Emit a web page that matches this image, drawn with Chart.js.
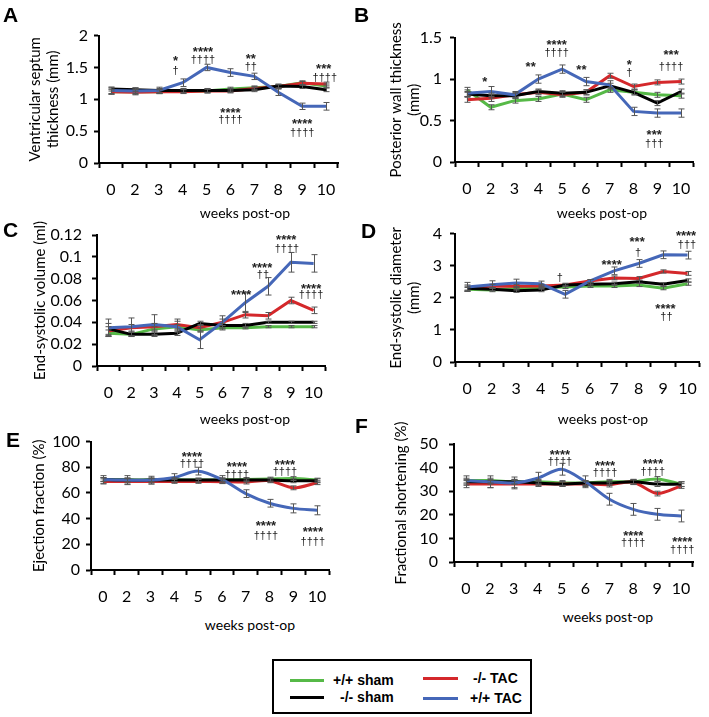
<!DOCTYPE html>
<html>
<head>
<meta charset="utf-8">
<script src="https://cdn.jsdelivr.net/npm/chart.js@4.4.0/dist/chart.umd.min.js"></script>
<style>
  body { margin: 0; background: #fff; width: 709px; height: 717px; position: relative; overflow: hidden; font-family: Lato, sans-serif; }
  canvas { position: absolute; }
  .letter { position: absolute; font: bold 21px "Liberation Sans", Arial, sans-serif; line-height: 21px; }
  .xt { position: absolute; width: 200px; text-align: center; font: 14px Lato, sans-serif; line-height: 16px; }
  .swatch { position: absolute; height: 3px; }
  .lg { position: absolute; font: bold 14px "Liberation Sans", Arial, sans-serif; line-height: 16px; white-space: nowrap; }
</style>
</head>
<body>
<canvas id="chartA" width="355" height="185" style="left:0;top:20px"></canvas>
<canvas id="chartB" width="354" height="185" style="left:355px;top:20px"></canvas>
<canvas id="chartC" width="355" height="195" style="left:0;top:212px"></canvas>
<canvas id="chartD" width="354" height="190" style="left:355px;top:216px"></canvas>
<canvas id="chartE" width="355" height="186" style="left:0;top:426px"></canvas>
<canvas id="chartF" width="354" height="191" style="left:355px;top:415px"></canvas>

<div class="letter" style="left:3px;top:4px">A</div>
<div class="letter" style="left:354px;top:4px">B</div>
<div class="letter" style="left:3px;top:219px">C</div>
<div class="letter" style="left:361px;top:220px">D</div>
<div class="letter" style="left:6px;top:429px">E</div>
<div class="letter" style="left:355px;top:415px">F</div>

<div class="xt" style="left:145px;top:205px">weeks post-op</div>
<div class="xt" style="left:502px;top:205px">weeks post-op</div>
<div class="xt" style="left:145px;top:411px">weeks post-op</div>
<div class="xt" style="left:503px;top:411px">weeks post-op</div>
<div class="xt" style="left:150px;top:617px">weeks post-op</div>
<div class="xt" style="left:508px;top:609px">weeks post-op</div>

<div style="position:absolute;left:272px;top:659px;width:256px;height:51px;border:2px solid #000"></div>
<div class="swatch" style="left:290px;top:679px;width:34px;background:#56b947"></div>
<div class="lg" style="left:333px;top:672px">+/+ sham</div>
<div class="swatch" style="left:290px;top:696px;width:34px;background:#000"></div>
<div class="lg" style="left:340px;top:689px">-/- sham</div>
<div class="swatch" style="left:423px;top:677px;width:35px;background:#d4282b"></div>
<div class="lg" style="left:473px;top:670px">-/- TAC</div>
<div class="swatch" style="left:423px;top:697px;width:35px;background:#4567b8"></div>
<div class="lg" style="left:470px;top:690px">+/+ TAC</div>

<script>
const weeks = ['0', '2', '3', '4', '5', '6', '7', '8', '9', '10'];

// A - ventricular septum thickness (mm)
const septumWtSham = [1.12, 1.12, 1.12, 1.13, 1.13, 1.16, 1.18, 1.20, 1.26, 1.21];
const septumKoSham = [1.16, 1.15, 1.14, 1.14, 1.14, 1.14, 1.15, 1.21, 1.20, 1.15];
const septumKoTac = [1.12, 1.11, 1.12, 1.12, 1.13, 1.13, 1.17, 1.20, 1.25, 1.24];
const septumWtTac = [1.14, 1.13, 1.14, 1.26, 1.50, 1.42, 1.36, 1.11, 0.89, 0.89];
const septumWtShamErr = [0.04, 0.03, 0.03, 0.03, 0.03, 0.03, 0.03, 0.03, 0.03, 0.03];
const septumKoShamErr = [0.03, 0.03, 0.03, 0.03, 0.03, 0.03, 0.03, 0.03, 0.03, 0.03];
const septumKoTacErr = [0.04, 0.04, 0.03, 0.03, 0.03, 0.03, 0.03, 0.03, 0.03, 0.03];
const septumWtTacErr = [0.05, 0.05, 0.05, 0.06, 0.05, 0.06, 0.05, 0.05, 0.05, 0.06];
const septumTicks = [0, 0.5, 1, 1.5, 2];
const septumMarks = [
    [2.7, 1.64, '*'], [2.7, 1.45, '†'],
    [3.85, 1.79, '****'], [3.85, 1.62, '††††'],
    [5.85, 1.67, '**'], [5.85, 1.50, '††'],
    [8.9, 1.52, '***'], [8.95, 1.33, '††††'],
    [5.0, 0.83, '****'], [5.0, 0.68, '††††'],
    [8.0, 0.65, '****'], [8.0, 0.47, '††††']
];

// B - posterior wall thickness (mm)
const wallWtSham = [0.87, 0.66, 0.74, 0.76, 0.82, 0.75, 0.87, 0.84, 0.81, 0.80];
const wallKoSham = [0.82, 0.80, 0.80, 0.85, 0.83, 0.84, 0.92, 0.84, 0.71, 0.85];
const wallKoTac = [0.75, 0.77, 0.81, 0.84, 0.81, 0.84, 1.04, 0.91, 0.96, 0.97];
const wallWtTac = [0.83, 0.85, 0.81, 1.00, 1.12, 0.97, 0.93, 0.61, 0.59, 0.59];
const wallWtShamErr = [0.03, 0.03, 0.03, 0.03, 0.03, 0.03, 0.03, 0.03, 0.03, 0.03];
const wallKoShamErr = [0.03, 0.03, 0.03, 0.03, 0.03, 0.03, 0.03, 0.03, 0.03, 0.03];
const wallKoTacErr = [0.03, 0.04, 0.03, 0.03, 0.03, 0.03, 0.03, 0.03, 0.03, 0.03];
const wallWtTacErr = [0.04, 0.06, 0.04, 0.05, 0.05, 0.05, 0.05, 0.05, 0.05, 0.05];
const wallTicks = [0, 0.5, 1, 1.5];
const wallMarks = [
    [0.75, 1.0, '*'],
    [2.68, 1.18, '**'],
    [3.77, 1.44, '****'], [3.77, 1.31, '††††'],
    [4.81, 1.14, '**'],
    [6.82, 1.20, '*'], [6.82, 1.07, '†'],
    [8.58, 1.32, '***'], [8.58, 1.14, '††††'],
    [7.87, 0.36, '***'], [7.87, 0.22, '†††']
];

// C - end-systolic volume (ml)
const esvWtSham = [0.030, 0.029, 0.034, 0.036, 0.033, 0.035, 0.035, 0.036, 0.036, 0.036];
const esvKoSham = [0.034, 0.029, 0.029, 0.030, 0.039, 0.037, 0.037, 0.040, 0.040, 0.040];
const esvKoTac = [0.032, 0.035, 0.036, 0.038, 0.035, 0.040, 0.047, 0.046, 0.060, 0.051];
const esvWtTac = [0.035, 0.036, 0.038, 0.036, 0.024, 0.040, 0.058, 0.073, 0.095, 0.094];
const esvWtShamErr = [0.003, 0.002, 0.002, 0.002, 0.002, 0.002, 0.001, 0.001, 0.001, 0.001];
const esvKoShamErr = [0.005, 0.002, 0.002, 0.002, 0.002, 0.002, 0.002, 0.001, 0.001, 0.001];
const esvKoTacErr = [0.004, 0.003, 0.003, 0.005, 0.003, 0.003, 0.003, 0.003, 0.003, 0.003];
const esvWtTacErr = [0.008, 0.008, 0.009, 0.005, 0.008, 0.006, 0.009, 0.008, 0.009, 0.008];
const esvTicks = [0, 0.02, 0.04, 0.06, 0.08, 0.1, 0.12];
const esvMarks = [
    [5.82, 0.067, '****'],
    [6.74, 0.0925, '****'], [6.78, 0.083, '††'],
    [7.8, 0.118, '****'], [7.83, 0.107, '††††'],
    [8.89, 0.073, '****'], [8.89, 0.065, '††††']
];

// D - end-systolic diameter (mm)
const esdWtSham = [2.27, 2.24, 2.29, 2.32, 2.34, 2.37, 2.37, 2.40, 2.30, 2.44];
const esdKoSham = [2.30, 2.27, 2.22, 2.24, 2.40, 2.42, 2.44, 2.50, 2.42, 2.54];
const esdKoTac = [2.30, 2.37, 2.36, 2.37, 2.40, 2.52, 2.62, 2.60, 2.82, 2.76];
const esdWtTac = [2.34, 2.41, 2.46, 2.44, 2.11, 2.52, 2.84, 3.07, 3.34, 3.33];
const esdWtShamErr = [0.05, 0.05, 0.05, 0.05, 0.05, 0.05, 0.05, 0.05, 0.05, 0.05];
const esdKoShamErr = [0.10, 0.05, 0.05, 0.05, 0.05, 0.05, 0.05, 0.05, 0.05, 0.05];
const esdKoTacErr = [0.06, 0.05, 0.05, 0.05, 0.05, 0.05, 0.06, 0.06, 0.05, 0.06];
const esdWtTacErr = [0.14, 0.12, 0.12, 0.08, 0.12, 0.05, 0.12, 0.12, 0.12, 0.12];
const esdTicks = [0, 1, 2, 3, 4];
const esdMarks = [
    [3.78, 2.62, '†'],
    [5.9, 3.10, '****'],
    [6.94, 3.82, '***'], [6.98, 3.40, '†'],
    [8.94, 4.00, '****'], [8.98, 3.64, '†††'],
    [8.1, 1.74, '****'], [8.14, 1.41, '††']
];

// E - ejection fraction (%)
const efWtSham = [70.5, 70.2, 70.2, 70.3, 70.0, 70.2, 70.5, 70.8, 71.2, 70.0];
const efKoSham = [70.5, 70.0, 70.0, 70.0, 70.0, 70.0, 70.0, 70.0, 69.5, 69.5];
const efKoTac = [69.0, 69.0, 69.0, 69.0, 69.0, 68.8, 68.5, 69.5, 64.0, 68.0];
const efWtTac = [70.5, 70.0, 70.0, 72.0, 77.0, 70.5, 59.5, 52.0, 48.0, 46.5];
const efWtShamErr = [1.5, 1.5, 1.5, 1.5, 1.5, 1.5, 1.5, 1.5, 1.5, 1.5];
const efKoShamErr = [1.5, 1.5, 1.5, 1.5, 1.5, 1.5, 1.5, 1.5, 1.5, 1.5];
const efKoTacErr = [2.0, 2.0, 2.0, 1.5, 1.5, 1.5, 1.5, 1.5, 1.5, 1.5];
const efWtTacErr = [3.0, 3.5, 3.0, 3.0, 3.0, 3.0, 3.0, 3.0, 3.5, 3.5];
const efTicks = [0, 20, 40, 60, 80, 100];
const efMarks = [
    [3.74, 90, '****'], [3.74, 82.4, '††††'],
    [5.63, 82.4, '****'], [5.63, 74, '††††'],
    [7.65, 84, '****'], [7.65, 76.3, '††††'],
    [6.85, 35.9, '****'], [6.85, 26.7, '††††'],
    [8.82, 31.3, '****'], [8.82, 22.1, '††††']
];

// F - fractional shortening (%)
const fsWtSham = [34.5, 34.5, 34.0, 34.0, 33.5, 33.5, 34.0, 34.0, 35.2, 33.0];
const fsKoSham = [34.0, 34.0, 34.0, 33.5, 33.0, 33.5, 33.5, 34.0, 33.0, 33.0];
const fsKoTac = [33.0, 33.0, 33.0, 33.0, 33.0, 33.0, 32.8, 33.8, 29.0, 32.2];
const fsWtTac = [34.5, 34.0, 33.5, 35.5, 39.3, 34.0, 26.6, 22.3, 20.2, 19.5];
const fsWtShamErr = [1, 1, 1, 1, 1, 1, 1, 1, 1, 1];
const fsKoShamErr = [1, 1, 1, 1, 1, 1, 1, 1, 1, 1];
const fsKoTacErr = [1.5, 1.5, 1.5, 1, 1, 1, 1, 1, 1, 1];
const fsWtTacErr = [2.0, 2.5, 2.5, 2.5, 2.5, 2.5, 2.5, 2.5, 2.5, 2.5];
const fsTicks = [0, 10, 20, 30, 40, 50];
const fsMarks = [
    [3.93, 46.6, '****'], [3.93, 42.4, '††††'],
    [5.82, 41.9, '****'], [5.82, 37.7, '††††'],
    [7.82, 42.8, '****'], [7.82, 38.1, '††††'],
    [7.0, 12.3, '****'], [7.0, 8.1, '††††'],
    [9.05, 9.7, '****'], [9.05, 5.1, '††††']
];

const groupNames = ['+/+ sham', '-/- sham', '-/- TAC', '+/+ TAC'];
const groupColors = ['#56b947', '#000000', '#d4282b', '#4567b8'];
const groupOrder = [3, 1, 2, 0];

Chart.defaults.color = '#000';
Chart.defaults.font.family = 'Lato';

// error bars drawn on top of the lines
const errorBarPlugin = {
    id: 'errorBars',
    afterDatasetsDraw(chart) {
        const { ctx, scales: { x, y } } = chart;
        ctx.save();
        ctx.strokeStyle = '#555';
        ctx.lineWidth = 1;
        chart.data.datasets.forEach(ds => {
            ds.data.forEach((v, i) => {
                const e = ds.errorBars[i];
                const px = Math.round(x.getPixelForValue(i)) + 0.5;
                const top = y.getPixelForValue(v + e);
                const bot = y.getPixelForValue(v - e);
                ctx.beginPath();
                ctx.moveTo(px, top); ctx.lineTo(px, bot);
                ctx.moveTo(px - 3, top); ctx.lineTo(px + 3, top);
                ctx.moveTo(px - 3, bot); ctx.lineTo(px + 3, bot);
                ctx.stroke();
            });
        });
        ctx.restore();
    }
};

// significance marks (stars and daggers)
function marksPlugin(items) {
    return {
        id: 'marks',
        afterDraw(chart) {
            const { ctx, scales: { x, y } } = chart;
            ctx.save();
            ctx.fillStyle = '#222';
            ctx.textAlign = 'center';
            ctx.textBaseline = 'middle';
            items.forEach(([i, v, t]) => {
                const star = t[0] === '*';
                ctx.font = star ? 'bold 13px "Liberation Sans"' : '11px "Liberation Sans"';
                ctx.fillText(t, x.getPixelForValue(i), y.getPixelForValue(v) + (star ? 3 : 0));
            });
            ctx.restore();
        }
    };
}

function makePanel(p) {
    const datasets = groupNames.map((name, k) => ({
        label: name,
        data: p.series[k],
        errorBars: p.errors[k],
        borderColor: groupColors[k],
        backgroundColor: groupColors[k],
        borderWidth: 3,
        pointRadius: 0,
        tension: p.tension,
        order: groupOrder[k],
        fill: false
    }));

    new Chart(document.getElementById(p.id), {
        type: 'line',
        data: { labels: weeks, datasets: datasets },
        options: {
            responsive: false,
            animation: false,
            layout: { padding: p.padding },
            plugins: { legend: { display: false }, tooltip: { enabled: false } },
            scales: {
                x: {
                    type: 'category',
                    offset: true,
                    afterFit: s => { s.height = 40; },
                    border: { color: '#000', width: 2 },
                    grid: { offset: true, drawOnChartArea: false, drawTicks: true, tickLength: 5, tickColor: '#000', tickWidth: 2 },
                    ticks: { color: '#000', font: { size: 16 }, padding: 12, autoSkip: false, maxRotation: 0 }
                },
                y: {
                    min: 0,
                    max: p.ticks[p.ticks.length - 1],
                    afterBuildTicks: s => { s.ticks = p.ticks.map(v => ({ value: v })); },
                    afterFit: s => { s.width = p.yWidth; },
                    border: { color: '#000', width: 2 },
                    grid: { drawOnChartArea: false, drawTicks: true, tickLength: 5, tickColor: '#000', tickWidth: 2 },
                    ticks: { color: '#000', font: { size: 16 }, padding: p.yPad, autoSkip: false, callback: v => String(v) },
                    title: { display: true, text: p.title, color: '#000', font: { size: 15 }, padding: { top: p.titlePad, bottom: 0 } }
                }
            }
        },
        plugins: [errorBarPlugin, marksPlugin(p.marks)]
    });
}

makePanel({
    id: 'chartA', title: ['Ventricular septum', 'thickness (mm)'], ticks: septumTicks, marks: septumMarks,
    series: [septumWtSham, septumKoSham, septumKoTac, septumWtTac],
    errors: [septumWtShamErr, septumKoShamErr, septumKoTacErr, septumWtTacErr],
    padding: { top: 11, right: 17, bottom: 2, left: 0 }, yWidth: 99, yPad: 6, titlePad: 26, tension: 0
});
makePanel({
    id: 'chartB', title: ['Posterior wall thickness', '(mm)'], ticks: wallTicks, marks: wallMarks,
    series: [wallWtSham, wallKoSham, wallKoTac, wallWtTac],
    errors: [wallWtShamErr, wallKoShamErr, wallKoTacErr, wallWtTacErr],
    padding: { top: 10, right: 16, bottom: 3, left: 0 }, yWidth: 100, yPad: 8, titlePad: 32, tension: 0
});
makePanel({
    id: 'chartC', title: 'End-systolic volume (ml)', ticks: esvTicks, marks: esvMarks,
    series: [esvWtSham, esvKoSham, esvKoTac, esvWtTac],
    errors: [esvWtShamErr, esvKoShamErr, esvKoTacErr, esvWtTacErr],
    padding: { top: 23, right: 30, bottom: 1, left: 0 }, yWidth: 97, yPad: 10, titlePad: 31, tension: 0
});
makePanel({
    id: 'chartD', title: ['End-systolic diameter', '(mm)'], ticks: esdTicks, marks: esdMarks,
    series: [esdWtSham, esdKoSham, esdKoTac, esdWtTac],
    errors: [esdWtShamErr, esdKoShamErr, esdKoTacErr, esdWtTacErr],
    padding: { top: 13, right: 4, bottom: 4, left: 0 }, yWidth: 100, yPad: 8, titlePad: 32, tension: 0
});
makePanel({
    id: 'chartE', title: 'Ejection fraction (%)', ticks: efTicks, marks: efMarks,
    series: [efWtSham, efKoSham, efKoTac, efWtTac],
    errors: [efWtShamErr, efKoShamErr, efKoTacErr, efWtTacErr],
    padding: { top: 13, right: 26, bottom: 2, left: 0 }, yWidth: 91, yPad: 6, titlePad: 30, tension: 0.3
});
makePanel({
    id: 'chartF', title: 'Fractional shortening (%)', ticks: fsTicks, marks: fsMarks,
    series: [fsWtSham, fsKoSham, fsKoTac, fsWtTac],
    errors: [fsWtShamErr, fsKoShamErr, fsKoTacErr, fsWtTacErr],
    padding: { top: 29, right: 16, bottom: 4, left: 0 }, yWidth: 99, yPad: 11, titlePad: 37, tension: 0.3
});
</script>
</body>
</html>
